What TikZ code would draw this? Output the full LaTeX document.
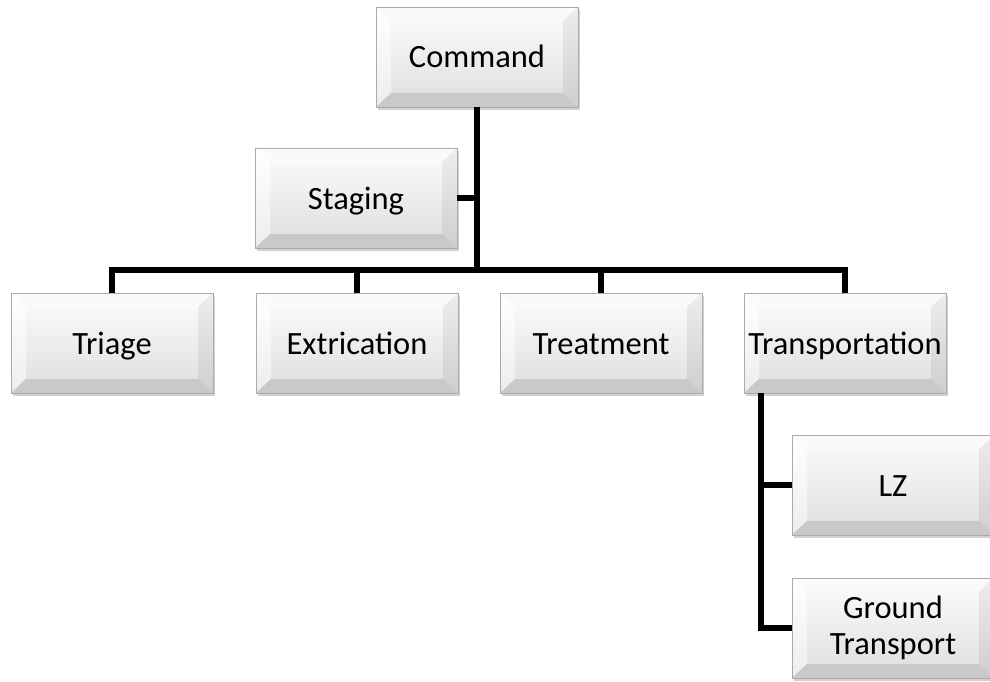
\documentclass[tikz,border=0pt]{standalone}
\usepackage{fontspec}
\setmainfont{Carlito}
\usepackage{tikz}
\usetikzlibrary{shadows}

\begin{document}
\begin{tikzpicture}[x=1pt,y=-1pt,
  wire/.style={line width=6.5pt,color=black,line join=miter},
  bevelbox/.style={rectangle,draw=black!33,line width=0.8pt,
    minimum width=202pt,minimum height=100pt,inner sep=0pt,align=center,
    font=\fontsize{32.5}{36}\selectfont,text height=27pt,text depth=5pt,
    top color=black!1,bottom color=black!13,
    drop shadow={shadow xshift=2pt,shadow yshift=-3pt,opacity=0.3,fill=black!60},
    path picture={
      \path (path picture bounding box.north west) coordinate (bnw)
            (path picture bounding box.south east) coordinate (bse);
      \fill[black!2] (bnw) -- (bnw -| bse) -- ([shift={(-15pt,-14pt)}]bnw -| bse)
        -- ([shift={(15pt,-14pt)}]bnw) -- cycle; % top bevel
      \shade[top color=white,bottom color=black!7] (bnw) -- ([shift={(15pt,-14pt)}]bnw)
        -- ([shift={(15pt,14pt)}]bnw |- bse) -- (bnw |- bse) -- cycle; % left bevel
      \shade[top color=black!7,bottom color=black!19] (bnw -| bse) -- (bse)
        -- ([shift={(-15pt,14pt)}]bse) -- ([shift={(-15pt,-14pt)}]bnw -| bse) -- cycle; % right bevel
      \fill[black!21] (bnw |- bse) -- (bse) -- ([shift={(-15pt,14pt)}]bse)
        -- ([shift={(15pt,14pt)}]bnw |- bse) -- cycle; % bottom bevel
    }}]

\useasboundingbox (0,0) rectangle (990,682);
\clip (0,0) rectangle (990,682);

\node [bevelbox] (command) at (477,57) {Command};
\node [bevelbox] (staging) at (356,198) {Staging};

\node [bevelbox] (triage) at (112,343) {Triage};
\node [bevelbox] (extrication) at (357,343) {Extrication};
\node [bevelbox] (treatment) at (601,343) {Treatment};
\node [bevelbox] (transport) at (845,343) {Transportation};

\node [bevelbox] (lz) at (893,485) {LZ};
\node [bevelbox,text height={},text depth={}] (ground) at (893,628) {Ground\\Transport};

\coordinate (hub) at (477,270); % horizontal bus
\coordinate (leg) at ([xshift=-84pt]transport.south); % branch under Transportation

\draw[wire] (command.south) -- (hub);
\draw[wire] (staging.east) -- (staging.east -| hub);
\draw[wire] (triage.north) |- (hub) -| (transport.north);
\foreach \Child in {extrication, treatment}{
    \draw[wire] (\Child.north) -- (\Child.north |- hub);
}
\draw[wire] (leg) |- (ground.west);
\draw[wire] (lz.west) -- (lz.west -| leg);

\end{tikzpicture}
\end{document}
